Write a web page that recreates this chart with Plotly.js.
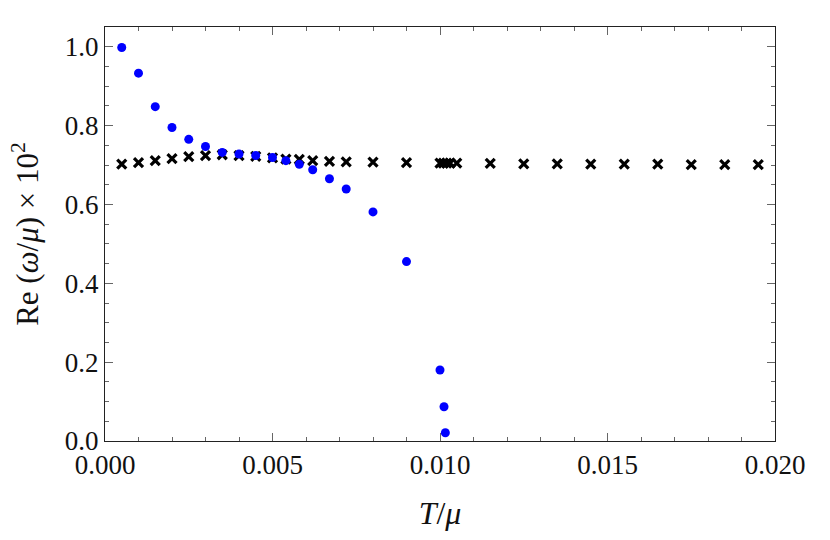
<!DOCTYPE html>
<html>
<head>
<meta charset="utf-8">
<script src="https://cdn.plot.ly/plotly-3.0.1.min.js"></script>
<style>
  body { margin: 0; background: #fff; }
  #chart { width: 830px; height: 540px; }
</style>
</head>
<body>
<div id="chart"></div>
<script>
// blue dots
var tBlue = [0.0005, 0.001, 0.0015, 0.002, 0.0025, 0.003, 0.0035, 0.004, 0.0045, 0.005,
             0.0054, 0.0058, 0.0062, 0.0067, 0.0072, 0.008, 0.009, 0.0100, 0.01012, 0.01016];
var reBlue = [0.998, 0.933, 0.848, 0.795, 0.765, 0.747, 0.732, 0.728, 0.724, 0.719,
              0.711, 0.702, 0.688, 0.665, 0.639, 0.581, 0.455, 0.180, 0.087, 0.021];

// black crosses
var tCross = [0.0005, 0.001, 0.0015, 0.002, 0.0025, 0.003, 0.0035, 0.004, 0.0045, 0.005,
              0.0054, 0.0058, 0.0062, 0.0067, 0.0072, 0.008, 0.009, 0.0100, 0.0101, 0.0102,
              0.0103, 0.0105, 0.0115, 0.0125, 0.0135, 0.0145, 0.0155, 0.0165, 0.0175, 0.0185, 0.0195];
var reCross = [0.702, 0.706, 0.711, 0.716, 0.721, 0.724, 0.726, 0.724, 0.722, 0.718,
               0.715, 0.714, 0.711, 0.709, 0.708, 0.707, 0.706, 0.705, 0.705, 0.705,
               0.705, 0.705, 0.704, 0.703, 0.703, 0.702, 0.702, 0.702, 0.701, 0.701, 0.701];

var xTicks = [0, 0.005, 0.01, 0.015, 0.02];
var xTickText = ['0.000', '0.005', '0.010', '0.015', '0.020'];
var yTicks = [0, 0.2, 0.4, 0.6, 0.8, 1.0];
var yTickText = ['0.0', '0.2', '0.4', '0.6', '0.8', '1.0'];

var serif = "'Liberation Serif', 'Times New Roman', Times, serif";

var crosses = {
    x: tCross, y: reCross,
    mode: 'markers', type: 'scatter',
    marker: { symbol: 'x-thin', size: 9, color: 'black', line: { color: 'black', width: 3.2 } },
    hoverinfo: 'x+y'
};
var dots = {
    x: tBlue, y: reBlue,
    mode: 'markers', type: 'scatter',
    marker: { symbol: 'circle', size: 9, color: 'rgb(0,0,255)' },
    hoverinfo: 'x+y'
};

var axisCommon = {
    showgrid: false, zeroline: false,
    showline: true, linecolor: '#222', linewidth: 1,
    mirror: 'ticks', ticks: 'inside', ticklen: 8, tickcolor: '#666', tickwidth: 1,
    tickfont: { family: serif, size: 27, color: '#111' }
};

var layout = {
    width: 830, height: 540,
    margin: { l: 105, r: 55, t: 27, b: 99 },
    paper_bgcolor: 'white', plot_bgcolor: 'white',
    showlegend: false,
    xaxis: Object.assign({}, axisCommon, {
        range: [0, 0.02],
        tickvals: xTicks, ticktext: xTickText,
        minor: { dtick: 0.001, ticks: 'inside', ticklen: 4, tickcolor: '#666' },
        title: { text: '<i>T</i>/<i>μ</i>', font: { family: serif, size: 32, color: '#111' }, standoff: 22 }
    }),
    yaxis: Object.assign({}, axisCommon, {
        range: [0, 1.05],
        tickvals: yTicks, ticktext: yTickText,
        minor: { dtick: 0.05, ticks: 'inside', ticklen: 4, tickcolor: '#666' },
        title: { text: 'Re (<i>ω</i>/<i>μ</i>) × 10<sup>2</sup>', font: { family: serif, size: 31, color: '#111' }, standoff: 16 }
    })
};

Plotly.newPlot('chart', [crosses, dots], layout, { displayModeBar: false, staticPlot: true });
</script>
</body>
</html>
